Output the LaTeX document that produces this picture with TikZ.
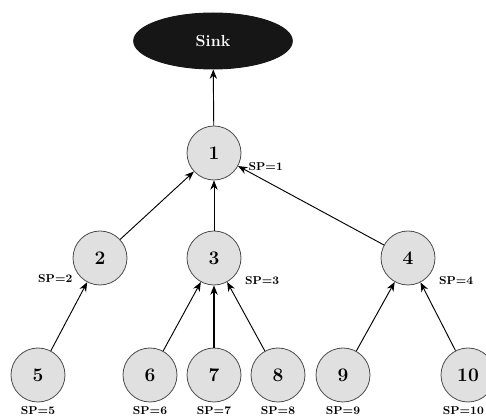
\documentclass[tikz,border=0pt]{standalone}
\usepackage{tikz}
\usetikzlibrary{positioning,arrows.meta,shapes.geometric}
\definecolor{nodegray}{HTML}{E0E0E0}
\definecolor{sinkblack}{HTML}{161616}
\tikzset{
  tree/.style={>={Stealth[length=7pt,width=5.5pt]},
    line width=0.7pt,
    label distance=2pt},
  every label/.style={phantom,font=\fontsize{8.6}{10}\selectfont\bfseries},
  sensor/.style={circle,draw=black!70,fill=nodegray,minimum size=40.5pt,
    inner sep=0pt,line width=0.6pt,font=\Large\bfseries},
  sink/.style={ellipse,draw=sinkblack,fill=sinkblack,minimum width=119pt,
    minimum height=42pt,text=white,font=\large\bfseries},
  phantom/.style={rectangle,inner sep=0pt,draw=none,fill=none},
  heavy/.style={line width=1.5pt}}

\begin{document}
\begin{tikzpicture}[x=0.75pt,y=-0.75pt,tree]
  \useasboundingbox (0,0) rectangle (486,416);
  \clip (0,0) rectangle (486,416);
  % sink and first level
  \node[sink] (sink) at (213,41) {Sink};
  \node[sensor] (n1) [label={[label distance=6pt]-15:SP=1}] at (214,153) {1};
  % second level
  \node[sensor] (n2) [label={[label distance=3pt]-150:SP=2}] at (100,258) {2};
  \node[sensor] (n3) [label={[label distance=6pt]-30:SP=3}] at (214,258) {3};
  \node[sensor] (n4) [label={[label distance=6pt]-30:SP=4}] at (408,258) {4};
  % leaves
  \node[sensor] (n5) [label={[label distance=3pt]below:SP=5}] at (38,375) {5};
  \node[sensor] (n6) [label={[label distance=3pt]below:SP=6}] at (150,375) {6};
  \node[sensor] (n7) [label={[label distance=3pt]below:SP=7}] at (214,375) {7};
  \node[sensor] (n8) [label={[label distance=3pt]below:SP=8}] at (278,375) {8};
  \node[sensor] (n9) [label={[label distance=3pt]below:SP=9}] at (343,375) {9};
  \node[sensor] (n10) [label={[label distance=3pt,xshift=-3.5pt]below:SP=10}] at (468,375) {10};
  \draw[->] (n1) to (sink);
  \draw[->] (n2) to (n1);
  \draw[->] (n3) to (n1);
  \draw[->] (n4) to (n1);
  \draw[->] (n5) to (n2);
  \draw[->] (n6) to (n3);
  \draw[->,heavy] (n7) to (n3);
  \draw[->] (n8) to (n3);
  \draw[->] (n9) to (n4);
  \draw[->] (n10) to (n4);
\end{tikzpicture}
\end{document}
